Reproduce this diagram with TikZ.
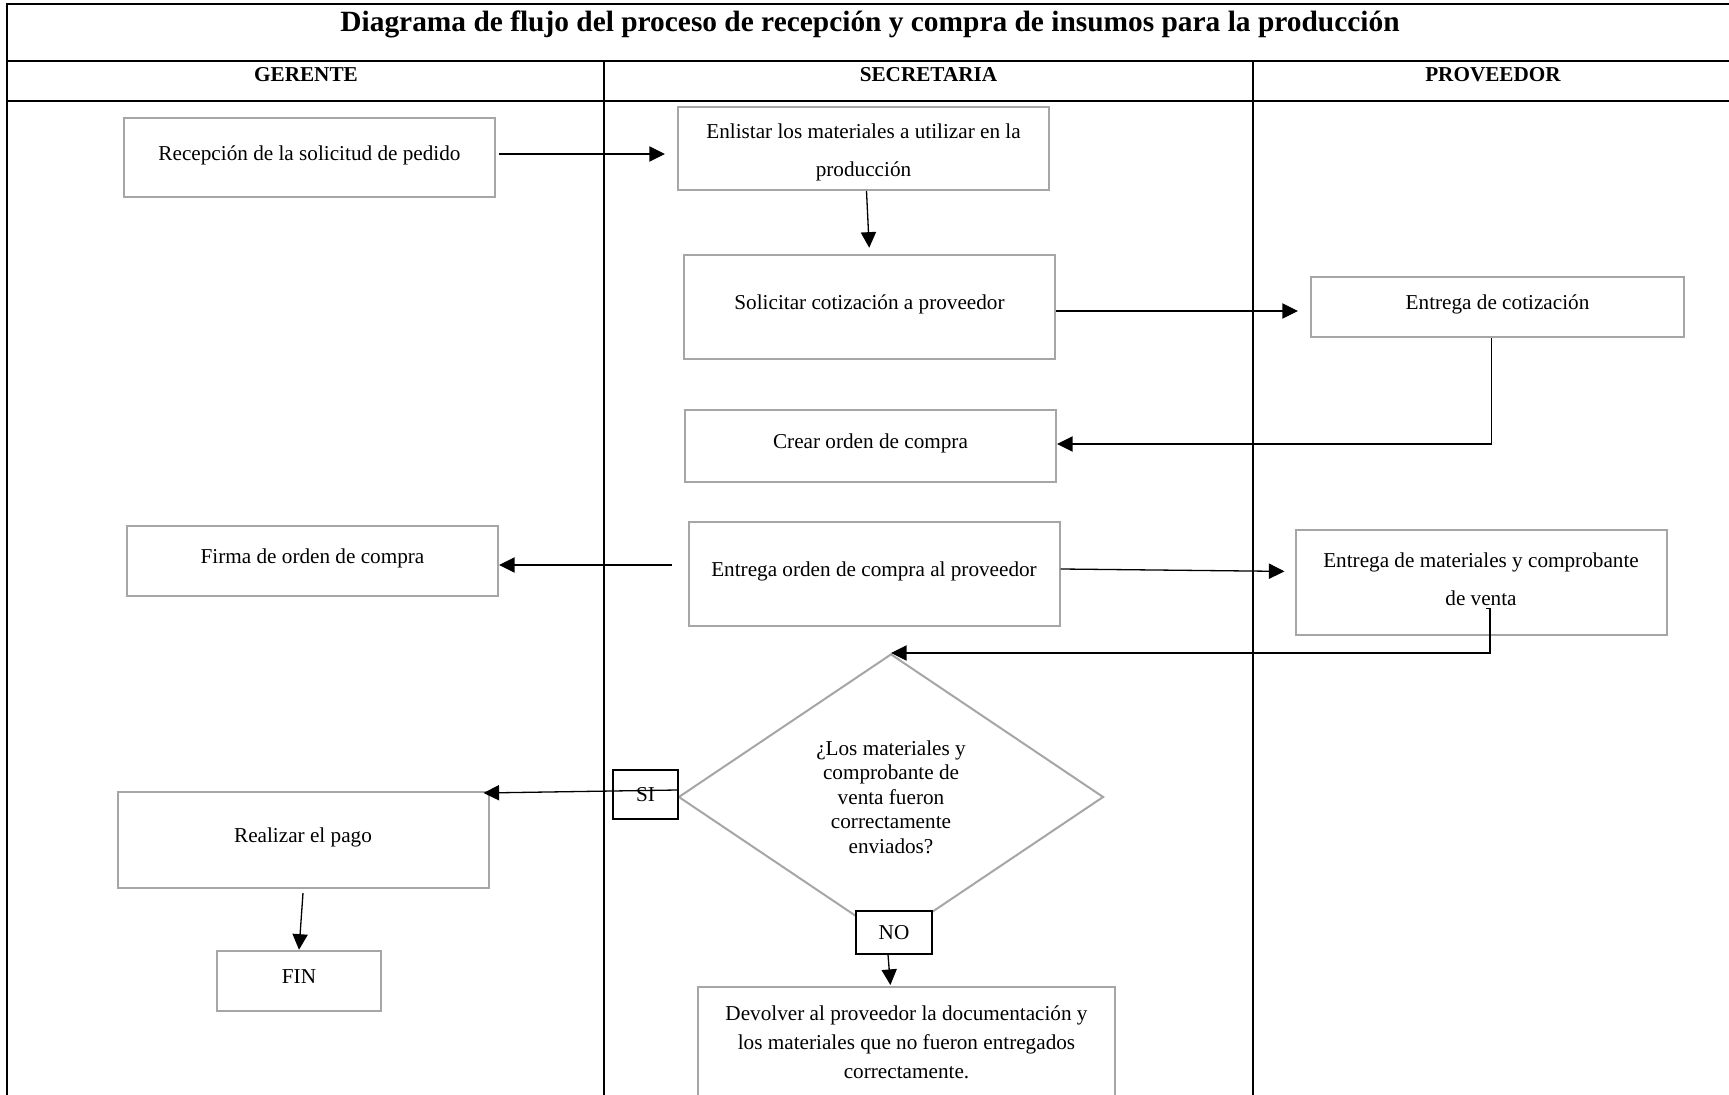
\documentclass[tikz,border=0pt]{standalone}
\usepackage{fontspec}
\setmainfont{Liberation Serif}
\usepackage{tikz}
\usetikzlibrary{shapes.geometric,arrows.meta}
\definecolor{gris}{RGB}{166,166,166}

\begin{document}
\begin{tikzpicture}[x=0.5pt,y=-0.5pt,
    font=\fontsize{10.6}{12.3}\selectfont,
    caja/.style={draw=gris, line width=1pt, align=center, minimum width=185.5pt, inner sep=2pt, text depth=4.5pt},
    doble/.style={font=\fontsize{10.6}{18.75}\selectfont},
    marca/.style={draw, line width=0.6pt, fill=white, inner sep=0pt},
    flecha/.style={-{Triangle[length=7.8pt,width=7.6pt]}, line width=0.65pt},
    borde/.style={line width=1.25pt}]
    \useasboundingbox (0,0) rectangle (1729,1095);
    \draw[borde] (7,4) rectangle (1733,1100);
    \draw[borde] (7,61) -- (1733,61) (7,101) -- (1733,101);
    \draw[borde] (604,61) -- (604,1100) (1253,61) -- (1253,1100);
    \node[font=\fontsize{14.7}{17}\selectfont\bfseries] (titulo) at (870,24) {Diagrama de flujo del proceso de recepción y compra de insumos para la producción};
    \node[font=\fontsize{10.6}{12.3}\selectfont\bfseries] (gerente) at (306,75) {GERENTE};
    \node[font=\fontsize{10.6}{12.3}\selectfont\bfseries] (secretaria) at (928.5,75) {SECRETARIA};
    \node[font=\fontsize{10.6}{12.3}\selectfont\bfseries] (proveedor) at (1493,75) {PROVEEDOR};

    \node[caja, minimum height=39.5pt] (rec) at (309.5,158) {Recepción de la solicitud de pedido};
    \node[caja, doble, minimum height=41.5pt, text depth=2.3pt, text height=30pt] (enl) at (863.5,148.5) {Enlistar los materiales a utilizar en la\\ producción};
    \node[caja, minimum height=52.25pt] (sol) at (869.5,307) {Solicitar cotización a proveedor};
    \node[caja, minimum width=186.5pt, minimum height=30pt] (cot) at (1497.5,307) {Entrega de cotización};
    \node[caja, minimum height=36pt] (crear) at (870.5,446) {Crear orden de compra};
    \node[caja, minimum height=52.25pt] (ent) at (874,574) {Entrega orden de compra al proveedor};
    \node[caja, minimum height=34.75pt] (firma) at (312.5,561) {Firma de orden de compra};
    \node[caja, doble, minimum height=52.5pt, text depth=3.5pt] (mat) at (1481,582.5) {Entrega de materiales y comprobante\\ de venta};
    \node[draw=gris, line width=1pt, diamond, minimum width=212.5pt, minimum height=143pt, inner sep=0pt, align=center] (dec) at (891,797) {¿Los materiales y\\ comprobante de\\ venta fueron\\ correctamente\\ enviados?};
    \node[marca, minimum width=32.5pt, minimum height=24.5pt] (si) at (645.5,794.5) {SI};
    \node[marca, minimum width=38pt, minimum height=21.5pt] (no) at (894,932.5) {NO};
    \node[caja, minimum height=48pt] (pago) at (303,840) {Realizar el pago};
    \node[caja, minimum width=82.25pt, minimum height=30.25pt] (fin) at (299,981) {FIN};
    \node[caja, anchor=north, minimum width=208.5pt, minimum height=58pt, text depth=3.3pt, font=\fontsize{10.6}{14.5}\selectfont] (dev) at (906.5,986) {Devolver al proveedor la documentación y\\ los materiales que no fueron entregados\\ correctamente.};

    \draw[flecha, shorten <=1.5pt, shorten >=6pt] ([yshift=2pt]rec.east) -- ([yshift=2pt]rec.east -| enl.west);
    \draw[flecha, shorten >=3pt] ([xshift=1.5pt]enl.south) -- (sol.north);
    \draw[flecha, shorten >=6pt] ([yshift=-2pt]sol.east) -- ([yshift=-2pt]sol.east -| cot.west);
    \draw[flecha] ([xshift=-3pt]cot.south) |- ([yshift=1pt]crear.east);
    \draw[flecha] ([xshift=-8pt,yshift=4.5pt]ent.west) -- ([yshift=4.5pt]ent.west -| firma.east);
    \draw[flecha, shorten >=5pt] ([yshift=2.5pt]ent.east) -- ([yshift=5.5pt]mat.west);
    \draw[flecha] ([xshift=2.5pt,yshift=-13pt]mat.center) -- ++(4,0) |- (dec.north);
    \draw[flecha] ([yshift=3.5pt]dec.west) -- ([xshift=-3pt,yshift=-1pt]pago.north east);
    \draw[flecha, shorten >=0.5pt] ([xshift=-3pt]no.south) -- ([xshift=-8pt]dev.north);
    \draw[flecha] ([yshift=-2pt]pago.south) -- (fin.north);
\end{tikzpicture}
\end{document}
